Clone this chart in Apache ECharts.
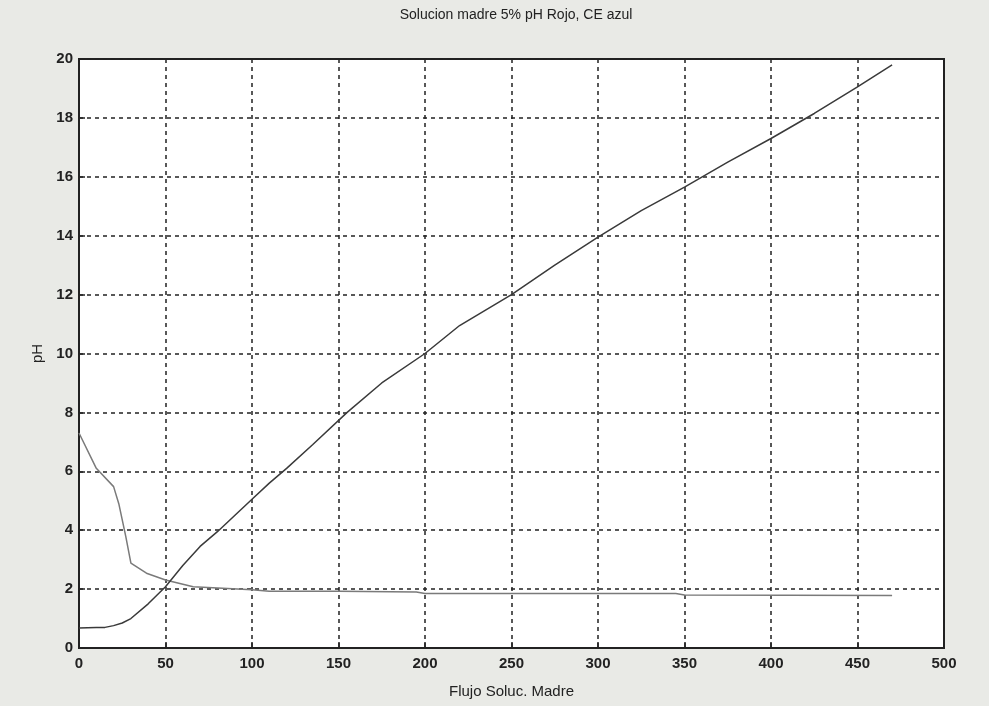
<!DOCTYPE html>
<html>
<head>
<meta charset="utf-8">
<script src="https://cdn.jsdelivr.net/npm/echarts@6/dist/echarts.min.js"></script>
<style>
  html, body { margin: 0; padding: 0; background: #e9eae6; }
  #chart { width: 989px; height: 706px; }
</style>
</head>
<body>
<div id="chart"></div>
<script>
// pH curve (rising)
var phX = [0, 10, 15, 20, 25, 30, 40, 50, 60, 70, 80, 90, 100, 110, 120, 135, 155, 175, 200, 220, 250, 275, 300, 325, 350, 375, 400, 425, 450, 470];
var phY = [0.68, 0.7, 0.7, 0.76, 0.85, 1.0, 1.5, 2.08, 2.8, 3.45, 3.95, 4.5, 5.05, 5.6, 6.1, 6.9, 8.0, 9.0, 10.0, 10.95, 12.0, 13.0, 13.95, 14.85, 15.65, 16.5, 17.3, 18.15, 19.05, 19.8];
// CE curve (falling)
var ceX = [0, 10, 20, 23, 27, 30, 39, 50, 66, 100, 110, 150, 195, 200, 345, 350, 470];
var ceY = [7.3, 6.1, 5.48, 4.9, 3.8, 2.88, 2.54, 2.31, 2.08, 1.98, 1.93, 1.93, 1.9, 1.85, 1.85, 1.8, 1.78];
var xTicks = [0, 50, 100, 150, 200, 250, 300, 350, 400, 450, 500];
var yTicks = [0, 2, 4, 6, 8, 10, 12, 14, 16, 18, 20];

function pairs(xs, ys) {
  var out = [];
  for (var i = 0; i < xs.length; i++) out.push([xs[i], ys[i]]);
  return out;
}

var myChart = echarts.init(document.getElementById("chart"));
var labelStyle = {
  color: "#222",
  fontSize: 15,
  fontFamily: "Liberation Sans Narrow, Liberation Sans, Arial",
  fontWeight: "bold"
};
var gridLine = {
  show: true,
  lineStyle: { color: "#222", width: 1.5, type: [4, 4] }
};
var option = {
  animation: false,
  backgroundColor: "#e9eae6",
  title: {
    text: "Solucion madre 5% pH Rojo, CE azul",
    left: 511,
    textAlign: "center",
    top: 3,
    textStyle: { fontSize: 14, fontWeight: "normal", color: "#222", fontFamily: "Liberation Sans Narrow, Liberation Sans, Arial" }
  },
  grid: {
    left: 79, right: 45, top: 59, bottom: 58,
    show: true, backgroundColor: "#ffffff", borderColor: "#222", borderWidth: 2
  },
  xAxis: {
    type: "value",
    min: xTicks[0], max: xTicks[xTicks.length - 1], interval: 50,
    name: "Flujo Soluc. Madre",
    nameLocation: "middle",
    nameGap: 36,
    nameTextStyle: { fontSize: 15, color: "#222", fontFamily: "Liberation Sans Narrow, Liberation Sans, Arial" },
    axisLine: { show: true, lineStyle: { color: "#222", width: 2 } },
    axisTick: { show: true, inside: true, length: 6, lineStyle: { color: "#222", width: 1.5 } },
    axisLabel: Object.assign({ margin: 8 }, labelStyle),
    splitLine: gridLine
  },
  yAxis: {
    type: "value",
    min: yTicks[0], max: yTicks[yTicks.length - 1], interval: 2,
    name: "pH",
    nameLocation: "middle",
    nameGap: 28,
    nameTextStyle: { fontSize: 15, color: "#222", fontFamily: "Liberation Sans Narrow, Liberation Sans, Arial" },
    axisLine: { show: true, lineStyle: { color: "#222", width: 2 } },
    axisTick: { show: true, inside: true, length: 6, lineStyle: { color: "#222", width: 1.5 } },
    axisLabel: Object.assign({ margin: 6 }, labelStyle),
    splitLine: gridLine
  },
  series: [
    {
      name: "pH",
      type: "line",
      data: pairs(phX, phY),
      showSymbol: false,
      lineStyle: { color: "#3a3a3a", width: 1.5 },
      z: 10
    },
    {
      name: "CE",
      type: "line",
      data: pairs(ceX, ceY),
      showSymbol: false,
      lineStyle: { color: "#7a7a7a", width: 1.5 },
      z: 9
    }
  ]
};
myChart.setOption(option);
</script>
</body>
</html>
